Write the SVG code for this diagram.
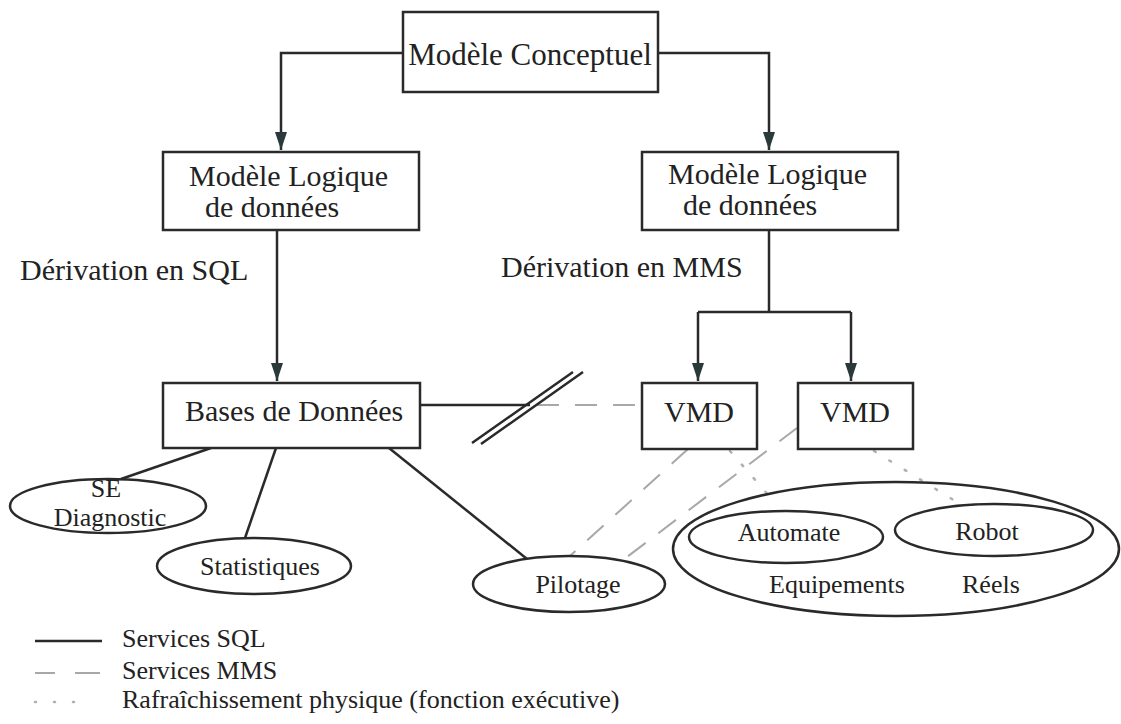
<svg xmlns="http://www.w3.org/2000/svg" width="1121" height="724" viewBox="0 0 1121 724" font-family="'Liberation Serif', 'Times New Roman', 'DejaVu Serif', serif">
<style>
  .box { fill: #fff; stroke: #2a2a2a; stroke-width: 2.5; }
  .ell { fill: none; stroke: #2a2a2a; stroke-width: 2.5; }
  text { font-family: 'Liberation Serif', 'Times New Roman', 'DejaVu Serif', serif; fill: #222; }
  .big { font-size: 30px; }
  .sm { font-size: 26px; }
  .solid { fill: none; stroke: #2a2a2a; stroke-width: 2.5; }
  .dash { fill: none; stroke: #a8a8a8; stroke-width: 2; stroke-dasharray: 22 16; }
  .dot { fill: none; stroke: #b0b0b0; stroke-width: 2.5; stroke-dasharray: 2 16; stroke-linecap: round; }
</style>
<defs>
  <marker id="arrd" viewBox="0 0 18 12" refX="18" refY="6" markerWidth="18" markerHeight="12" markerUnits="userSpaceOnUse" orient="auto">
    <path d="M0,0 L18,6 L0,12 Z" fill="#2a3a3a"/>
  </marker>
</defs>
<rect width="1121" height="724" fill="#fff"/>

<g id="connectors">
  <path class="solid" d="M403,53 H281 V150" marker-end="url(#arrd)"/>
  <path class="solid" d="M658,53 H769 V150" marker-end="url(#arrd)"/>
  <path class="solid" d="M277,230 V381" marker-end="url(#arrd)"/>
  <path class="solid" d="M769,230 V312"/>
  <path class="solid" d="M698,312 H851"/>
  <path class="solid" d="M698,312 V381" marker-end="url(#arrd)"/>
  <path class="solid" d="M851,312 V381" marker-end="url(#arrd)"/>
  <path class="solid" d="M420,405 H530"/>
  <path class="dash" d="M537,405 H641"/>
  <path class="solid" d="M472,443 L573,372 M481,444 L583,372"/>
  <path class="solid" d="M211,448 L121,479"/>
  <path class="solid" d="M276,448 L245,538"/>
  <path class="solid" d="M389,448 L527,559"/>
  <path class="dash" d="M688,449 L570,556"/>
  <path class="dash" d="M797,428 L627,557"/>
  <path class="dot" d="M730,451 L770,497"/>
  <path class="dot" d="M874,451 L960,504"/>
</g>

<g id="modele-conceptuel">
  <rect class="box" x="403" y="12" width="255" height="80"/>
  <text x="530" y="65" font-size="31" text-anchor="middle">Modèle Conceptuel</text>
</g>

<g id="mld-sql">
  <rect class="box" x="163" y="152" width="256" height="78"/>
  <text class="big" x="189" y="186">Modèle Logique</text>
  <text class="big" x="205" y="217">de données</text>
</g>

<g id="mld-mms">
  <rect class="box" x="642" y="152" width="256" height="78"/>
  <text class="big" x="668" y="184">Modèle Logique</text>
  <text class="big" x="683" y="215">de données</text>
</g>

<g id="label-sql">
  <text class="big" x="20" y="280">Dérivation en SQL</text>
</g>
<g id="label-mms">
  <text class="big" x="501" y="277">Dérivation en MMS</text>
</g>

<g id="bases">
  <rect class="box" x="163" y="383" width="257" height="65"/>
  <text class="big" x="185" y="421">Bases de Données</text>
</g>

<g id="vmd1">
  <rect class="box" x="642" y="383" width="115" height="66"/>
  <text class="big" x="699" y="422" text-anchor="middle">VMD</text>
</g>

<g id="vmd2">
  <rect class="box" x="798" y="383" width="115" height="66"/>
  <text class="big" x="855" y="422" text-anchor="middle">VMD</text>
</g>

<g id="se-diagnostic">
  <ellipse class="ell" cx="108" cy="506" rx="98" ry="27"/>
  <text class="sm" x="106" y="497" text-anchor="middle">SE</text>
  <text class="sm" x="110" y="526" text-anchor="middle">Diagnostic</text>
</g>

<g id="statistiques">
  <ellipse class="ell" cx="254" cy="566" rx="97" ry="28"/>
  <text class="sm" x="260" y="575" text-anchor="middle">Statistiques</text>
</g>

<g id="pilotage">
  <ellipse class="ell" cx="569" cy="584" rx="96" ry="28"/>
  <text class="sm" x="578" y="593" text-anchor="middle">Pilotage</text>
</g>

<g id="equipements">
  <ellipse class="ell" cx="896" cy="549" rx="223" ry="67"/>
  <text class="sm" x="769" y="593">Equipements</text>
  <text class="sm" x="962" y="593">Réels</text>
</g>

<g id="automate">
  <ellipse class="ell" cx="786" cy="537" rx="97" ry="26"/>
  <text class="sm" x="789" y="541" text-anchor="middle">Automate</text>
</g>

<g id="robot">
  <ellipse class="ell" cx="994" cy="530" rx="99" ry="26"/>
  <text class="sm" x="987" y="540" text-anchor="middle">Robot</text>
</g>

<g id="legend">
  <line class="solid" x1="35" y1="641" x2="102" y2="641"/>
  <text class="sm" x="122" y="647">Services SQL</text>
  <path d="M35,673 H55 M75,673 H100" fill="none" stroke="#a8a8a8" stroke-width="2"/>
  <text class="sm" x="122" y="679">Services MMS</text>
  <path class="dot" d="M35,702 H92" style="stroke-dasharray:1 18"/>
  <text class="sm" x="122" y="708">Rafraîchissement physique (fonction exécutive)</text>
</g>
</svg>
